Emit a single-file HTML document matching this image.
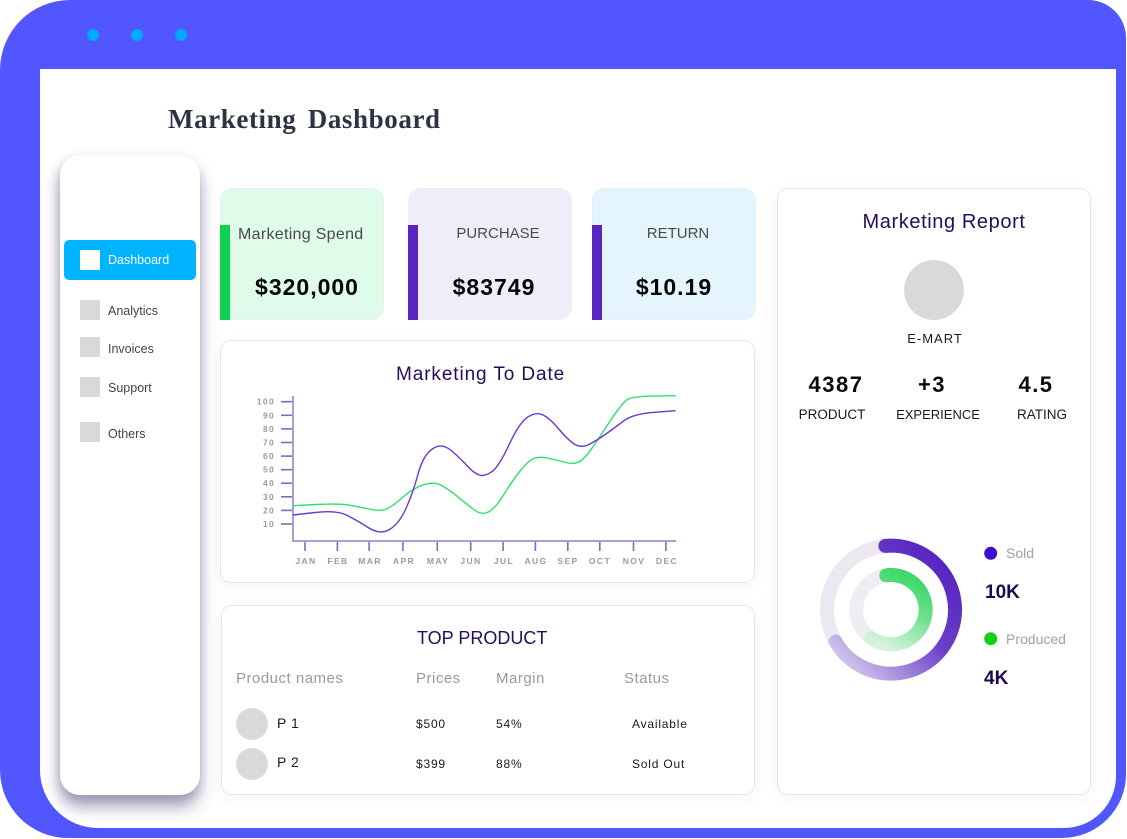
<!DOCTYPE html>
<html><head><meta charset="utf-8">
<style>
*{margin:0;padding:0;box-sizing:border-box}
html,body{width:1127px;height:839px;background:#fff;overflow:hidden;font-family:"Liberation Sans",sans-serif}
.a{position:absolute}
.t{position:absolute;white-space:nowrap}
.frame{left:0;top:0;width:1126px;height:838px;background:#5256ff;border-radius:70px 38px 64px 68px}
.inner{left:40px;top:69px;width:1076px;height:759px;background:#fff;border-radius:0 0 52px 58px}
.dot{width:12px;height:12px;border-radius:50%;background:#00aaff;top:29px}
.side{left:60px;top:155px;width:140px;height:640px;background:#fff;border-radius:20px;box-shadow:0 12px 16px rgba(70,55,110,.45),-2px 4px 10px rgba(70,55,110,.18)}
.card{background:#fff;border:1px solid #e7e7ea;border-radius:11px;box-shadow:0 3px 14px rgba(0,0,0,.05)}
.sq{width:20px;height:20px;background:#d9d9d9;left:80px}
.nav{left:108px;font-size:12.5px;color:#444;height:20px;line-height:20px}
.stat{border-radius:13px;border:1px solid #ebeef0;width:164px;height:132px;top:188px}
.bar{width:10px;height:95px;top:225px}
.lbl{font-size:15px;color:#4a4a4a;height:20px;line-height:20px;top:224px;text-align:center}
.val{font-size:23px;font-weight:bold;color:#050505;letter-spacing:1px;height:30px;line-height:30px;top:272px;text-align:center}
.hd{font-size:15px;color:#9a9a9a;letter-spacing:.5px;top:669px;height:20px;line-height:20px}
.rw{font-size:12px;color:#1a1a1a;letter-spacing:.8px;height:20px;line-height:20px}
.big{font-size:22px;font-weight:bold;color:#0a0a0a;letter-spacing:1.5px;height:30px;line-height:30px;top:370px;text-align:center;width:100px}
.cap{font-size:13.5px;color:#1a1a1a;height:20px;line-height:20px;top:405px;text-align:center;width:120px}
</style></head><body>
<div class="a frame"></div>
<div class="a inner"></div>
<div class="a dot" style="left:87px"></div>
<div class="a dot" style="left:131px"></div>
<div class="a dot" style="left:175px"></div>

<div class="t" style="left:168px;top:106px;font-family:'Liberation Serif',serif;font-size:27px;font-weight:bold;line-height:27px;color:#2c3444;letter-spacing:0.6px;word-spacing:4px">Marketing Dashboard</div>

<!-- sidebar -->
<div class="a side"></div>
<div class="a" style="left:64px;top:240px;width:132px;height:40px;background:#00b4ff;border-radius:5px"></div>
<div class="a" style="left:80px;top:250px;width:20px;height:20px;background:#fff"></div>
<div class="t nav" style="top:250px;color:#fff">Dashboard</div>
<div class="a sq" style="top:300px"></div><div class="t nav" style="top:301px">Analytics</div>
<div class="a sq" style="top:337px"></div><div class="t nav" style="top:339px">Invoices</div>
<div class="a sq" style="top:377px"></div><div class="t nav" style="top:378px">Support</div>
<div class="a sq" style="top:422px"></div><div class="t nav" style="top:424px">Others</div>

<!-- stat cards -->
<div class="a stat" style="left:220px;background:#dffbe9"></div>
<div class="a bar" style="left:220px;background:#10d050"></div>
<div class="t" style="left:238px;top:225px;height:20px;line-height:20px;font-size:16px;color:#4a4a4a;letter-spacing:.3px">Marketing Spend</div>
<div class="t val" style="left:230px;width:154px">$320,000</div>

<div class="a stat" style="left:408px;background:#f0edfb"></div>
<div class="a bar" style="left:408px;background:#5a24c0"></div>
<div class="t lbl" style="left:418px;width:160px">PURCHASE</div>
<div class="t val" style="left:418px;width:152px">$83749</div>

<div class="a stat" style="left:592px;background:#e4f5fd"></div>
<div class="a bar" style="left:592px;background:#5a24c0"></div>
<div class="t lbl" style="left:602px;width:152px">RETURN</div>
<div class="t val" style="left:602px;width:144px">$10.19</div>

<!-- chart card -->
<div class="a card" style="left:220px;top:340px;width:535px;height:243px"></div>
<div class="t" style="left:396px;top:364px;height:22px;line-height:22px;font-size:19px;color:#230d5c;letter-spacing:.9px">Marketing To Date</div>

<!-- top product card -->
<div class="a card" style="left:221px;top:605px;width:534px;height:190px"></div>
<div class="t" style="left:417px;top:627px;height:22px;line-height:22px;font-size:18px;color:#230d5c">TOP PRODUCT</div>
<div class="t hd" style="left:236px">Product names</div>
<div class="t hd" style="left:416px">Prices</div>
<div class="t hd" style="left:496px">Margin</div>
<div class="t hd" style="left:624px">Status</div>
<div class="a" style="left:236px;top:708px;width:32px;height:32px;border-radius:50%;background:#d9d9d9"></div>
<div class="a" style="left:236px;top:748px;width:32px;height:32px;border-radius:50%;background:#d9d9d9"></div>
<div class="t rw" style="left:277px;top:713px;font-size:14px;letter-spacing:.5px">P 1</div>
<div class="t rw" style="left:416px;top:714px">$500</div>
<div class="t rw" style="left:496px;top:714px">54%</div>
<div class="t rw" style="left:632px;top:714px">Available</div>
<div class="t rw" style="left:277px;top:752px;font-size:14px;letter-spacing:.5px">P 2</div>
<div class="t rw" style="left:416px;top:754px">$399</div>
<div class="t rw" style="left:496px;top:754px">88%</div>
<div class="t rw" style="left:632px;top:754px">Sold Out</div>

<!-- right card -->
<div class="a card" style="left:777px;top:188px;width:314px;height:607px"></div>
<div class="t" style="left:844px;top:210px;width:200px;text-align:center;height:24px;line-height:24px;font-size:20px;color:#230d5c;letter-spacing:.6px">Marketing Report</div>
<div class="a" style="left:904px;top:260px;width:60px;height:60px;border-radius:50%;background:#d9d9d9"></div>
<div class="t" style="left:885px;top:329px;width:100px;text-align:center;height:20px;line-height:20px;font-size:13px;color:#1a1a1a;letter-spacing:1px">E-MART</div>
<div class="t big" style="left:786px">4387</div>
<div class="t big" style="left:882px">+3</div>
<div class="t big" style="left:986px">4.5</div>
<div class="t cap" style="left:772px">PRODUCT</div>
<div class="t cap" style="left:878px;font-size:13px">EXPERIENCE</div>
<div class="t cap" style="left:982px">RATING</div>

<div class="t" style="left:1006px;top:543px;height:20px;line-height:20px;font-size:14px;color:#a0a0a0">Sold</div>
<div class="t" style="left:985px;top:581px;height:24px;line-height:24px;font-size:19px;font-weight:bold;color:#1e0b4e">10K</div>
<div class="t" style="left:1006px;top:629px;height:20px;line-height:20px;font-size:14px;color:#a0a0a0">Produced</div>
<div class="t" style="left:984px;top:667px;height:24px;line-height:24px;font-size:19px;font-weight:bold;color:#1e0b4e">4K</div>

<svg class="a" style="left:0;top:0" width="1127" height="839" viewBox="0 0 1127 839">
<defs>
<linearGradient id="gp" x1="1" y1="0" x2="0" y2="1">
<stop offset="0" stop-color="#4f1cbf"/><stop offset="0.45" stop-color="#6a3fc8"/><stop offset="1" stop-color="#e2daf2"/>
</linearGradient>
<linearGradient id="gg" x1="0.6" y1="0" x2="0.2" y2="1">
<stop offset="0" stop-color="#3fd96a"/><stop offset="0.4" stop-color="#6fe08e"/><stop offset="1" stop-color="#d6f2dc"/>
</linearGradient>
</defs>
<!-- chart axes -->
<g stroke="#7b6cc0" stroke-width="1.6">
<line x1="281" y1="401.7" x2="293" y2="401.7"/><line x1="281" y1="415.3" x2="293" y2="415.3"/>
<line x1="281" y1="428.9" x2="293" y2="428.9"/><line x1="281" y1="442.5" x2="293" y2="442.5"/>
<line x1="281" y1="456.1" x2="293" y2="456.1"/><line x1="281" y1="469.7" x2="293" y2="469.7"/>
<line x1="281" y1="483.2" x2="293" y2="483.2"/><line x1="281" y1="496.8" x2="293" y2="496.8"/>
<line x1="281" y1="510.4" x2="293" y2="510.4"/><line x1="281" y1="524" x2="293" y2="524"/>
<line x1="305" y1="541" x2="305" y2="551"/><line x1="337.4" y1="541" x2="337.4" y2="551"/>
<line x1="369.1" y1="541" x2="369.1" y2="551"/><line x1="402.9" y1="541" x2="402.9" y2="551"/>
<line x1="437.3" y1="541" x2="437.3" y2="551"/><line x1="470.7" y1="541" x2="470.7" y2="551"/>
<line x1="503.1" y1="541" x2="503.1" y2="551"/><line x1="535.4" y1="541" x2="535.4" y2="551"/>
<line x1="567.8" y1="541" x2="567.8" y2="551"/><line x1="599.8" y1="541" x2="599.8" y2="551"/>
<line x1="633.5" y1="541" x2="633.5" y2="551"/><line x1="665.9" y1="541" x2="665.9" y2="551"/>
</g>
<line x1="293" y1="396" x2="293" y2="542" stroke="#a99fd6" stroke-width="2"/>
<line x1="292" y1="541" x2="676" y2="541" stroke="#a99fd6" stroke-width="2"/>
<g font-family="Liberation Sans, sans-serif" font-size="8.5" font-weight="bold" fill="#9a9a9a" letter-spacing="1.3">
<text x="275" y="404.7" text-anchor="end">100</text><text x="275" y="418.3" text-anchor="end">90</text>
<text x="275" y="431.9" text-anchor="end">80</text><text x="275" y="445.5" text-anchor="end">70</text>
<text x="275" y="459.1" text-anchor="end">60</text><text x="275" y="472.7" text-anchor="end">50</text>
<text x="275" y="486.2" text-anchor="end">40</text><text x="275" y="499.8" text-anchor="end">30</text>
<text x="275" y="513.4" text-anchor="end">20</text><text x="275" y="527" text-anchor="end">10</text>
</g>
<g font-family="Liberation Sans, sans-serif" font-size="8.5" font-weight="bold" fill="#9a9a9a" letter-spacing="1.4" text-anchor="middle">
<text x="306" y="564">JAN</text><text x="338" y="564">FEB</text><text x="370" y="564">MAR</text>
<text x="404" y="564">APR</text><text x="438" y="564">MAY</text><text x="471" y="564">JUN</text>
<text x="504" y="564">JUL</text><text x="536" y="564">AUG</text><text x="568" y="564">SEP</text>
<text x="600" y="564">OCT</text><text x="634" y="564">NOV</text><text x="667" y="564">DEC</text>
</g>
<path fill="none" stroke="#2fdf6b" stroke-width="1.4" d="M293,505.7 L315.9,504.5 Q338.8,503.3 349.4,505.15 Q360,507 370.05,509.25 Q380.1,511.5 386.15,509.1 Q392.2,506.7 402.5,497.5 Q412.8,488.3 423.15,484.9 Q433.5,481.5 440.4,484.9 Q447.3,488.3 457.6,496.65 Q467.9,505 474.8,510.25 Q481.7,515.5 488.6,511.9 Q495.5,508.3 504.1,494.15 Q512.7,480 521.3,469.5 Q529.9,459 535.95,457.75 Q542,456.5 551,458.75 Q560,461 567.35,462.75 Q574.7,464.5 579.85,461.4 Q585,458.3 591.9,448.3 Q598.8,438.3 610.85,420 Q622.9,401.7 628.05,399.1 Q633.2,396.5 654.4,396.1 L675.6,395.7"/>
<path fill="none" stroke="#6a38d2" stroke-width="1.4" d="M293,515 L315,512.5 Q337,510 347.5,515.5 Q358,521 369,528 Q380,535 389.5,529.5 Q399,524 405.9,508.65 Q412.8,493.3 418,474.15 Q423.2,455 432.6,448.75 Q442,442.5 451.5,450.75 Q461,459 467.9,466.5 Q474.8,474 480,475.25 Q485.2,476.5 492.05,471.6 Q498.9,466.7 509.25,444.35 Q519.6,422 528.2,416.75 Q536.8,411.5 543.7,415.25 Q550.6,419 559.2,429.5 Q567.8,440 574.7,444.25 Q581.6,448.5 590.2,443.9 Q598.8,439.3 607.4,433 Q616,426.7 624.6,420.35 Q633.2,414 654.4,412.35 L675.6,410.7"/>

<!-- donut -->
<circle cx="891" cy="609.7" r="64" fill="none" stroke="#ebe8f0" stroke-width="14"/>
<circle cx="891" cy="609.7" r="34.7" fill="none" stroke="#eeedf2" stroke-width="14"/>
<path fill="none" stroke="url(#gp)" stroke-width="14" stroke-linecap="round" d="M885.4,545.9 A64,64 0 1 1 835.6,641.7"/>
<path fill="none" stroke="url(#gg)" stroke-width="14" stroke-linecap="round" d="M886.2,575.3 A34.7,34.7 0 1 1 871.1,638.1"/>
<circle cx="990.7" cy="553.3" r="6.5" fill="#3c0fcc"/>
<circle cx="990.7" cy="638.7" r="6.5" fill="#10d01a"/>
</svg>
</body></html>
